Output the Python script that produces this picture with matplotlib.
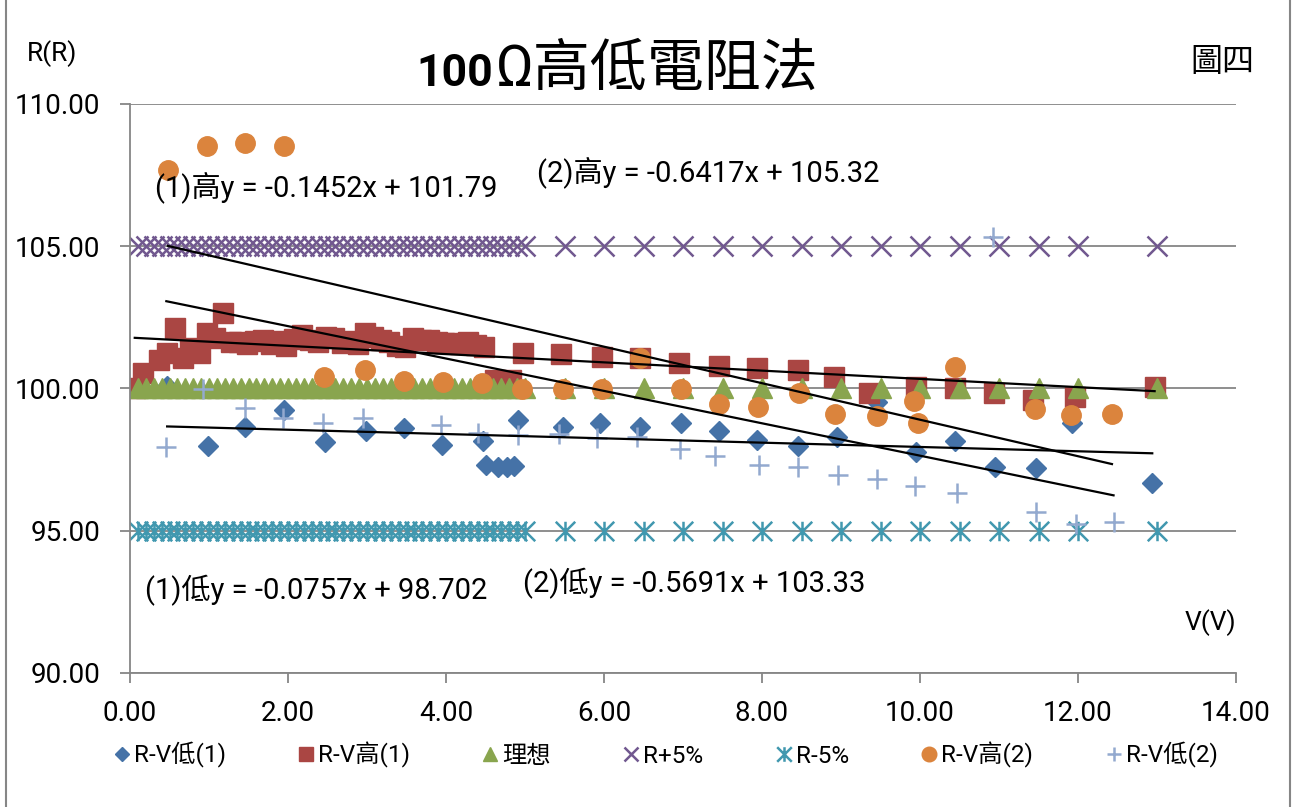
import matplotlib
matplotlib.use("Agg")
import matplotlib.pyplot as plt
from matplotlib.path import Path
from matplotlib.patches import Rectangle
from matplotlib.ticker import FormatStrFormatter

plt.rcParams['font.family'] = ['Roboto', 'Noto Sans CJK TC']

# R-V低(1): low-range method, first run
V_LOW1 = [0.47, 0.99, 1.46, 1.95, 2.47, 2.99, 3.47, 3.95, 4.47, 4.51, 4.66, 4.77,
          4.86, 4.91, 5.48, 5.95, 6.46, 6.97, 7.46, 7.94, 8.45, 8.95, 9.45, 9.95,
          10.44, 10.95, 11.47, 11.93, 12.94]
R_LOW1 = [100.10, 97.98, 98.65, 99.25, 98.12, 98.50, 98.60, 98.00, 98.15, 97.31,
          97.25, 97.25, 97.29, 98.89, 98.66, 98.78, 98.66, 98.78, 98.50, 98.19,
          97.98, 98.28, 99.54, 97.78, 98.15, 97.25, 97.22, 98.80, 96.67]

# R-V高(1): high-range method, first run
V_HIGH1 = [0.06, 0.17, 0.37, 0.47, 0.57, 0.67, 0.76, 0.88, 0.97, 1.07, 1.18, 1.28,
           1.38, 1.48, 1.58, 1.68, 1.78, 1.88, 1.98, 2.08, 2.18, 2.28, 2.38, 2.48,
           2.58, 2.68, 2.78, 2.88, 2.98, 3.08, 3.18, 3.28, 3.38, 3.48, 3.58, 3.68,
           3.78, 3.88, 3.98, 4.08, 4.18, 4.28, 4.38, 4.48, 4.62, 4.72, 4.82, 4.98,
           5.46, 5.97, 6.46, 6.95, 7.46, 7.94, 8.45, 8.91, 9.36, 9.95, 10.44, 10.94,
           11.43, 11.96, 12.97]
R_HIGH1 = [100.00, 100.53, 101.00, 101.24, 102.12, 101.06, 101.41, 101.24, 101.94,
           101.76, 102.64, 101.64, 101.62, 101.58, 101.66, 101.72, 101.55, 101.68,
           101.50, 101.75, 101.88, 101.70, 101.62, 101.80, 101.76, 101.60, 101.66,
           101.55, 101.94, 101.82, 101.70, 101.62, 101.50, 101.45, 101.76, 101.72,
           101.70, 101.65, 101.60, 101.59, 101.55, 101.62, 101.53, 101.47, 100.30,
           100.25, 100.30, 101.24, 101.21, 101.12, 101.08, 100.89, 100.79, 100.73,
           100.65, 100.41, 99.83, 100.06, 100.00, 99.85, 99.60, 99.71, 100.06]

# reference grid: ideal value and +/-5 % limits
V_REF = [0.1, 0.2, 0.3, 0.4, 0.5, 0.6, 0.7, 0.8, 0.9, 1.0,
         1.1, 1.2, 1.3, 1.4, 1.5, 1.6, 1.7, 1.8, 1.9, 2.0,
         2.1, 2.2, 2.3, 2.4, 2.5, 2.6, 2.7, 2.8, 2.9, 3.0,
         3.1, 3.2, 3.3, 3.4, 3.5, 3.6, 3.7, 3.8, 3.9, 4.0,
         4.1, 4.2, 4.3, 4.4, 4.5, 4.6, 4.7, 4.8, 4.9, 5.0,
         5.5, 6.0, 6.5, 7.0, 7.5, 8.0, 8.5, 9.0, 9.5, 10.0,
         10.5, 11.0, 11.5, 12.0, 13.0]
R_IDEAL = [100.0] * len(V_REF)
R_PLUS5 = [105.0] * len(V_REF)
R_MINUS5 = [95.0] * len(V_REF)

# R-V高(2): high-range method, second run
V_HIGH2 = [0.48, 0.97, 1.46, 1.95, 2.45, 2.98, 3.47, 3.96, 4.45, 4.96, 5.48, 5.97,
           6.46, 6.97, 7.46, 7.95, 8.47, 8.93, 9.46, 9.92, 9.97, 10.44, 11.45,
           11.91, 12.43]
R_HIGH2 = [107.68, 108.52, 108.64, 108.53, 100.39, 100.65, 100.27, 100.24, 100.20,
           99.98, 99.98, 99.98, 101.08, 99.98, 99.44, 99.36, 99.83, 99.09, 99.03,
           99.57, 98.80, 100.77, 99.28, 99.07, 99.10]

# R-V低(2): low-range method, second run
V_LOW2 = [0.46, 0.93, 1.46, 1.94, 2.44, 2.95, 3.94, 4.41, 4.91, 5.43, 5.91, 6.42,
          6.96, 7.41, 7.96, 8.45, 8.96, 9.46, 9.94, 10.47, 10.93, 11.47, 11.98, 12.45]
R_LOW2 = [97.95, 99.98, 99.30, 98.97, 98.78, 98.97, 98.72, 98.43, 98.37, 98.40,
          98.25, 98.30, 97.87, 97.63, 97.31, 97.23, 96.96, 96.82, 96.57, 96.32,
          105.34, 95.67, 95.24, 95.32]

# linear trend lines (slope, intercept)
FIT_HIGH1 = (-0.1452, 101.79)
FIT_LOW1 = (-0.0757, 98.702)
FIT_HIGH2 = (-0.6417, 105.32)
FIT_LOW2 = (-0.5691, 103.33)

GREY = '#868686'
W, H = 1293, 807

fig = plt.figure(figsize=(W / 100, H / 100), dpi=100)
ax = fig.add_axes([130 / W, 1 - 673 / H, (1236 - 130) / W, (673 - 104) / H])

# asterisk marker: an x with a vertical stroke
star = Path([(-0.5, -0.5), (0.5, 0.5), (-0.5, 0.5), (0.5, -0.5), (0, -0.5), (0, 0.5)],
            [Path.MOVETO, Path.LINETO, Path.MOVETO, Path.LINETO, Path.MOVETO, Path.LINETO])

ax.plot(V_LOW1, R_LOW1, ls='none', marker='D', ms=10, color='#4572A7', label='R-V低(1)')
ax.plot(V_HIGH1, R_HIGH1, ls='none', marker='s', ms=14, color='#AA4643', label='R-V高(1)')
ax.plot(V_REF, R_IDEAL, ls='none', marker='^', ms=14, color='#89A54E', label='理想')
ax.plot(V_REF, R_PLUS5, ls='none', marker='x', ms=14, mew=1.8, color='#71588F', label='R+5%')
ax.plot(V_REF, R_MINUS5, ls='none', marker=star, ms=14, mew=1.8, mfc='none',
        color='#4198AF', label='R-5%')
ax.plot(V_HIGH2, R_HIGH2, ls='none', marker='o', ms=14, color='#DB843D', label='R-V高(2)')
ax.plot(V_LOW2, R_LOW2, ls='none', marker='+', ms=14, mew=1.8, color='#93A9CF', label='R-V低(2)')

for xs, (k, b) in [(V_HIGH1, FIT_HIGH1), (V_LOW1, FIT_LOW1),
                   (V_HIGH2, FIT_HIGH2), (V_LOW2, FIT_LOW2)]:
    x0, x1 = min(xs), max(xs)
    ax.plot([x0, x1], [k * x0 + b, k * x1 + b], color='black', lw=1.6)

ax.set_xlim(0, 14)
ax.set_ylim(90, 110)
ax.set_xticks(range(0, 15, 2))
ax.set_yticks([90, 95, 100, 105, 110])
ax.xaxis.set_major_formatter(FormatStrFormatter('%.2f'))
ax.yaxis.set_major_formatter(FormatStrFormatter('%.2f'))
ax.tick_params(direction='out', length=7.5, width=1.3, color=GREY, labelsize=20)
ax.tick_params(axis='y', pad=14)
ax.tick_params(axis='x', pad=12)
for side in ('top', 'right'):
    ax.spines[side].set_visible(False)
for side in ('left', 'bottom'):
    ax.spines[side].set_color(GREY)
    ax.spines[side].set_linewidth(1.3)
ax.yaxis.grid(True, color=GREY, lw=1.3)
ax.set_axisbelow(True)

eq_size = 21
ax.text(0.32, 107.08, '(1)高y = -0.1452x + 101.79', fontsize=eq_size, va='center')
ax.text(5.15, 107.61, '(2)高y = -0.6417x + 105.32', fontsize=eq_size, va='center')
ax.text(0.19, 92.92, '(1)低y = -0.0757x + 98.702', fontsize=eq_size, va='center')
ax.text(4.97, 93.16, '(2)低y = -0.5691x + 103.33', fontsize=eq_size, va='center')

fig.text(493 / W, 1 - 86 / H, '100', ha='right', va='baseline', fontsize=32, weight='bold')
fig.text(496 / W, 1 - 86 / H, 'Ω高低電阻法', ha='left', va='baseline', fontsize=41)
fig.text(52 / W, 1 - 54 / H, 'R(R)', ha='center', va='center', fontsize=19)
fig.text(1210 / W, 1 - 623 / H, 'V(V)', ha='center', va='center', fontsize=19)
fig.text(1222 / W, 1 - 62 / H, '圖四', ha='center', va='center', fontsize=23)

fig.legend(loc='center', bbox_to_anchor=(666 / W, 1 - 755 / H), ncol=7, frameon=False,
           fontsize=17.5, markerscale=0.75, handlelength=0.6, handletextpad=0.2,
           columnspacing=3.0)

fig.add_artist(Rectangle((6 / W, -0.05), 1284 / W, 1.1, transform=fig.transFigure,
                         fill=False, ec=GREY, lw=1.5))

fig.savefig('out.png', dpi=100)
